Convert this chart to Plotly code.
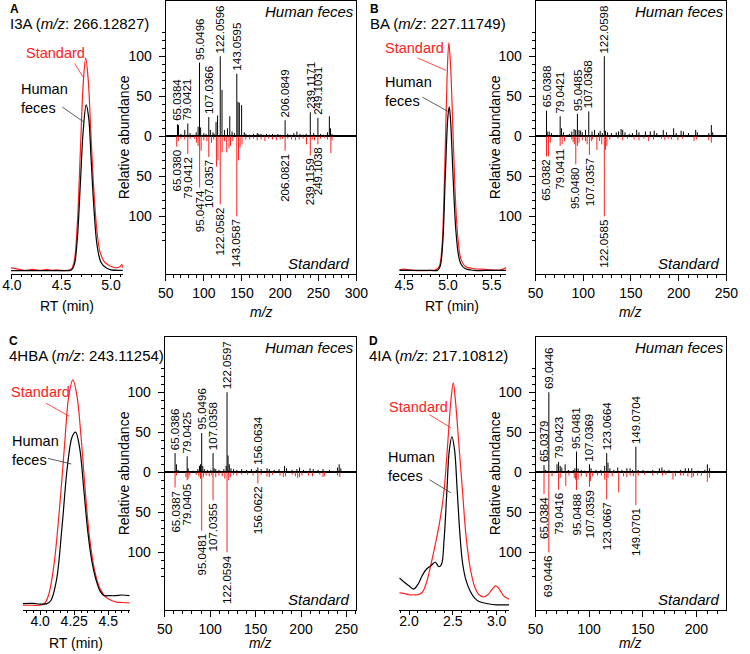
import plotly.graph_objects as go

# ---------------------------------------------------------------- data
# Extracted-ion chromatograms (RT in min, relative intensity; Standard peak = 100)
a_rt_std = [3.99, 4.05, 4.1, 4.15, 4.2, 4.25, 4.3, 4.35, 4.4, 4.45, 4.5, 4.55, 4.6, 4.63, 4.66, 4.69, 4.72, 4.745, 4.77, 4.8, 4.83, 4.86, 4.89, 4.93, 4.97, 5.01, 5.05, 5.09, 5.11, 5.12]
a_in_std = [1.5, 1.0, 0.5, 0.3, 0.8, 0.5, 0.3, 0.8, 0.3, 0.6, 0.2, 0.3, 1.0, 5, 22, 55, 88, 100, 90, 62, 36, 18, 9, 4.5, 3, 2, 1.5, 2, 3, 1.5]
a_rt_hf = [3.99, 4.1, 4.2, 4.3, 4.4, 4.5, 4.6, 4.63, 4.66, 4.69, 4.72, 4.75, 4.775, 4.8, 4.83, 4.86, 4.9, 4.95, 5.0, 5.12]
a_in_hf = [0.2, 0.2, 0.2, 0.2, 0.2, 0.2, 0.5, 3, 15, 40, 66, 78, 72, 52, 28, 12, 4, 1.5, 0.5, 0.3]

b_rt_std = [4.444, 4.5, 4.6, 4.7, 4.8, 4.86, 4.9, 4.93, 4.96, 4.99, 5.01, 5.03, 5.06, 5.09, 5.12, 5.15, 5.2, 5.3, 5.4, 5.5, 5.6, 5.667]
b_in_std = [0.5, 0.8, 0.3, 0.2, 0.3, 0.5, 2, 10, 40, 85, 100, 90, 58, 28, 12, 5, 2, 1, 0.8, 0.5, 0.5, 1.5]
b_rt_hf = [4.444, 4.6, 4.8, 4.88, 4.91, 4.94, 4.97, 5.0, 5.015, 5.03, 5.06, 5.09, 5.12, 5.15, 5.2, 5.3, 5.5, 5.667]
b_in_hf = [0.3, 0.3, 0.3, 0.3, 2, 12, 42, 68, 72, 66, 40, 18, 7, 3, 1, 0.3, 0.3, 0.3]

c_rt_std = [3.871, 3.95, 4.0, 4.03, 4.06, 4.1, 4.14, 4.18, 4.21, 4.24, 4.27, 4.3, 4.33, 4.36, 4.4, 4.44, 4.48, 4.52, 4.56, 4.6, 4.657]
c_in_std = [0.8, 0.8, 0.8, 1.5, 5, 18, 42, 72, 93, 100, 93, 75, 52, 32, 16, 8, 4.5, 3, 2.2, 2, 1.8]
c_rt_hf = [3.871, 3.95, 4.0, 4.05, 4.08, 4.12, 4.16, 4.2, 4.235, 4.26, 4.29, 4.32, 4.35, 4.38, 4.41, 4.44, 4.47, 4.5, 4.55, 4.6, 4.657]
c_in_hf = [1.5, 1.6, 1.3, 1.5, 3, 12, 35, 62, 75, 77, 70, 52, 33, 20, 12, 7, 5, 5, 5, 5.3, 5]

d_rt_std = [1.889, 1.95, 2.0, 2.05, 2.1, 2.15, 2.2, 2.25, 2.3, 2.35, 2.4, 2.44, 2.48, 2.505, 2.53, 2.57, 2.61, 2.65, 2.7, 2.75, 2.8, 2.85, 2.9, 2.95, 2.99, 3.03, 3.08, 3.144]
d_in_std = [6.3, 6, 5.5, 5.5, 5.5, 6.5, 11, 19, 28, 38, 52, 72, 93, 100, 92, 72, 52, 32, 17, 9, 5.5, 4.5, 5.5, 8, 9.5, 8, 5, 3.5]
d_rt_hf = [1.889, 1.95, 2.0, 2.05, 2.1, 2.15, 2.2, 2.25, 2.3, 2.34, 2.37, 2.4, 2.43, 2.46, 2.49, 2.52, 2.55, 2.58, 2.61, 2.65, 2.7, 2.75, 2.8, 2.9, 3.0, 3.144]
d_in_hf = [13, 11, 9.5, 8, 10, 14, 17, 18.5, 20, 18, 19, 30, 50, 70, 76, 70, 52, 33, 20, 12, 7, 4, 2.5, 1.5, 1, 1]

# MS/MS spectra: labelled peaks (position, relative abundance, label) and other peaks
a_hf_lab_mz = [65.5, 79, 94.3, 106.5, 121.5, 143.2, 206.5, 239.5, 249.5]
a_hf_lab_int = [15, 16, 92, 24, 100, 78, 20, 30, 23]
a_hf_lab_txt = ["65.0384", "79.0421", "95.0496", "107.0366", "122.0596", "143.0595", "206.0849", "239.1171", "249.1031"]
a_hf_mz = [66.8, 70, 75, 82, 86, 90, 92.5, 95.8, 100, 103, 108.5, 112, 113.5, 116, 118, 123.8, 127, 131, 134, 137, 140, 144.8, 146.5, 149.5, 153, 155, 160, 165, 170, 172, 175, 178, 182, 186, 190, 193, 197, 200, 210, 214, 218, 222, 226, 230, 234, 244, 253, 257, 262, 264.5, 266, 268]
a_hf_int = [14, 3, 8, 4, 2, 5, 12, 11, 4, 3, 8, 5, 3, 18, 26, 58, 8, 10, 25, 6, 4, 43, 42, 39, 5, 3, 2, 3, 4, 3, 3, 2, 3, 2, 3, 2, 3, 2, 3, 2, 4, 6, 3, 2, 3, 4, 3, 2, 5, 25, 10, 3]
a_st_lab_mz = [64.5, 79, 94.5, 106.5, 121.5, 143.2, 206.5, 239.5, 249.5]
a_st_lab_int = [13, 22, 64, 26, 85, 100, 18, 24, 10]
a_st_lab_txt = ["65.0380", "79.0412", "95.0474", "107.0357", "122.0582", "143.0587", "206.0821", "239.1159", "249.1038"]
a_st_mz = [66.5, 70, 75, 82, 88, 90.5, 92.5, 96.5, 100, 104, 110, 113, 116.5, 118.5, 124, 127, 130, 133, 135, 138, 145.5, 147.5, 150, 155, 160, 165, 170, 175, 180, 185, 190, 195, 200, 203, 210, 215, 220, 225, 230, 234.5, 242, 245, 253, 258, 262, 266.5, 268]
a_st_int = [6, 3, 4, 3, 3, 8, 12, 18, 5, 6, 8, 4, 38, 30, 20, 6, 20, 15, 12, 6, 30, 14, 10, 4, 4, 3, 5, 4, 6, 3, 4, 5, 4, 3, 3, 4, 5, 4, 3, 10, 4, 5, 3, 2, 4, 21, 5]

b_hf_lab_mz = [61.5, 75.8, 93.9, 105.8, 122.1]
b_hf_lab_int = [32, 25, 28, 31, 100]
b_hf_lab_txt = ["65.0388", "79.0421", "95.0485", "107.0368", "122.0598"]
b_hf_mz = [62.2, 64.3, 66.6, 77.2, 79.2, 85.4, 88, 90.4, 92.1, 95.6, 97.3, 99, 102.4, 109.2, 111.9, 116, 117.7, 120, 123.4, 125.5, 129.5, 134.6, 137, 139.7, 141.4, 143.8, 148.2, 151.6, 156, 158.4, 165.2, 170.3, 174.4, 177.1, 183.9, 187.3, 194.8, 197.5, 202.6, 205, 210.4, 217.9, 219.6, 231.6, 234.3, 235.7]
b_hf_int = [6, 6, 4, 10, 5, 3, 6, 9, 8, 8, 7, 5, 8, 6, 8, 4, 7, 4, 7, 5, 4, 5, 6, 9, 8, 5, 3, 4, 8, 5, 6, 6, 7, 4, 8, 5, 10, 4, 7, 6, 4, 8, 5, 4, 14, 5]
b_st_lab_mz = [61.5, 75.8, 92.2, 106.5, 122.1]
b_st_lab_int = [25, 12, 35, 23, 100]
b_st_lab_txt = ["65.0382", "79.0411", "95.0480", "107.0357", "122.0585"]
b_st_mz = [63.5, 65.5, 77.9, 80.3, 88, 89.4, 90.7, 93.9, 95.6, 99, 102.4, 104.1, 108.5, 109.9, 114.3, 117, 119.4, 123.4, 124.8, 127.8, 136.3, 141.4, 146.5, 153.3, 158.4, 163.5, 168.6, 173.7, 182.2, 185.6, 189, 192.4, 199.2, 204.3, 216.2, 218.9, 231.6, 234.3]
b_st_int = [25, 8, 10, 6, 4, 7, 10, 12, 8, 5, 6, 10, 6, 4, 17, 6, 10, 17, 12, 4, 3, 5, 3, 4, 5, 3, 6, 4, 3, 5, 3, 4, 5, 3, 6, 4, 5, 8]

c_hf_lab_mz = [61.4, 74.7, 90.7, 103.2, 118.6, 152.5]
c_hf_lab_int = [24, 20, 49, 24, 100, 6]
c_hf_lab_txt = ["65.0386", "79.0425", "95.0496", "107.0358", "122.0597", "156.0634"]
c_hf_mz = [62.9, 64.7, 75.8, 81.1, 86.5, 88.3, 89.4, 91.9, 93.6, 97.2, 100.8, 104.4, 106.2, 109.7, 115.1, 117.6, 119.7, 121.1, 122.9, 125.8, 129.4, 134.7, 140.1, 145.4, 150.8, 156.1, 162.6, 165.1, 170.5, 175.8, 181.9, 184.1, 190.2, 195.5, 198.4, 202.7, 209.9, 213.4, 218.8, 224.2, 231.3, 240.2, 242, 243.8]
c_hf_int = [10, 3, 5, 2, 4, 8, 10, 8, 4, 3, 3, 5, 4, 3, 4, 8, 21, 10, 5, 4, 3, 4, 3, 4, 3, 4, 5, 4, 3, 4, 8, 5, 3, 4, 6, 3, 5, 4, 3, 4, 3, 6, 10, 5]
c_st_lab_mz = [61.4, 74.7, 90.7, 103.2, 118.6, 152.5]
c_st_lab_int = [19, 10, 73, 35, 100, 14]
c_st_lab_txt = ["65.0387", "79.0405", "95.0481", "107.0355", "122.0594", "156.0622"]
c_st_mz = [62.9, 73.3, 75.8, 77.6, 84.7, 87.6, 89.4, 92.6, 95.5, 99, 101.9, 106.2, 109.7, 113.3, 116.2, 120.4, 122.2, 125.8, 129.4, 134.7, 141.2, 147.2, 156.1, 162.6, 165.1, 168.7, 176.9, 180.5, 183, 190.2, 193.8, 196.3, 198.4, 201, 208.1, 212.7, 220.6, 224.2, 226, 240.2, 242.7]
c_st_int = [4, 6, 8, 4, 3, 5, 8, 6, 4, 5, 4, 6, 4, 5, 8, 10, 6, 3, 4, 3, 3, 4, 3, 5, 6, 3, 4, 6, 5, 3, 5, 7, 6, 4, 4, 5, 3, 6, 5, 4, 6]

d_hf_lab_mz = [57.9, 62.4, 71.5, 88.2, 100.3, 116.4, 143.6]
d_hf_lab_int = [9, 100, 13, 26, 10, 24, 32]
d_hf_lab_txt = ["65.0379", "69.0446", "79.0423", "95.0481", "107.0369", "123.0664", "149.0704"]
d_hf_mz = [59.4, 65.4, 70, 73, 74.5, 77.6, 80.6, 85.2, 86.7, 89.7, 92.7, 95.8, 101.8, 106.4, 110.9, 114.5, 117.6, 119.4, 123, 126.7, 130.6, 135.2, 138.2, 140.6, 145.8, 150.3, 154.8, 159.4, 165.5, 167.9, 170, 174.5, 180.6, 185.2, 189.7, 192.7, 195.8, 201.8, 207.9, 210.3, 212.4]
d_hf_int = [3, 2, 10, 8, 6, 10, 3, 3, 5, 5, 3, 2, 5, 3, 3, 8, 12, 5, 3, 6, 3, 5, 5, 3, 3, 3, 2, 3, 5, 6, 3, 3, 2, 3, 5, 5, 5, 2, 3, 10, 5]
d_st_lab_mz = [57.9, 62.4, 71.5, 88.2, 100.3, 116.4, 143.6]
d_st_lab_int = [27, 100, 22, 22, 18, 34, 41]
d_st_lab_txt = ["65.0384", "69.0446", "79.0416", "95.0488", "107.0359", "123.0667", "149.0701"]
d_st_mz = [65.4, 73, 78.2, 81.2, 86.1, 87.3, 89.7, 92.7, 97.3, 101.2, 103.3, 107.9, 111.5, 114.5, 117.6, 121.5, 127.6, 132.1, 135.2, 138.2, 141.2, 145.8, 151.8, 159.4, 163.9, 168.5, 171.5, 178.2, 180.6, 185.2, 188.2, 192.1, 195.8, 197.3, 201.2, 204.8, 210.3, 212.4]
d_st_int = [5, 7, 17, 4, 7, 9, 9, 5, 6, 11, 5, 4, 4, 9, 7, 5, 25, 5, 6, 4, 5, 4, 3, 4, 3, 4, 3, 9, 5, 4, 4, 5, 7, 5, 4, 4, 12, 7]

panel_letters = ["A", "B", "C", "D"]
panel_titles = ["I3A (<i>m/z</i>: 266.12827)", "BA (<i>m/z</i>: 227.11749)",
                "4HBA (<i>m/z</i>: 243.11254)", "4IA (<i>m/z</i>: 217.10812)"]

# ---------------------------------------------------------------- layout helpers
W, H = 750, 654
FONT = "Liberation Sans, Arial, sans-serif"
RED = "#ff2020"


def fx(p):
    return p / W


def fy(p):
    return 1 - p / H


def frange(a, b, step):
    out, v = [], a
    while v <= b + 1e-9:
        out.append(round(v, 4))
        v += step
    return out


ROWS = [(1, 274), (337, 610)]  # top/bottom pixel of each row

chrom = [
    dict(rt_s=a_rt_std, in_s=a_in_std, rt_h=a_rt_hf, in_h=a_in_hf, dom=(3, 118), xr=[3.99, 5.12], yr=[-1.4, 126.8],
         major=[4.0, 4.5, 5.0], mtxt=["4.0", "4.5", "5.0"], minor=0.1, row=0),
    dict(rt_s=b_rt_std, in_s=b_in_std, rt_h=b_rt_hf, in_h=b_in_hf, dom=(402, 512), xr=[4.444, 5.667], yr=[-1.3, 118.4],
         major=[4.5, 5.0, 5.5], mtxt=["4.5", "5.0", "5.5"], minor=0.1, row=0),
    dict(rt_s=c_rt_std, in_s=c_in_std, rt_h=c_rt_hf, in_h=c_in_hf, dom=(15, 125), xr=[3.871, 4.657], yr=[-1.3, 118.9],
         major=[4.0, 4.25, 4.5], mtxt=["4.0", "4.25", "4.5"], minor=0.05, row=1),
    dict(rt_s=d_rt_std, in_s=d_in_std, rt_h=d_rt_hf, in_h=d_in_hf, dom=(402, 515), xr=[1.889, 3.144], yr=[-1.3, 120.5],
         major=[2.0, 2.5, 3.0], mtxt=["2.0", "2.5", "3.0"], minor=0.1, row=1),
]

spec = [
    dict(hl=(a_hf_lab_mz, a_hf_lab_int, a_hf_lab_txt), h=(a_hf_mz, a_hf_int),
         sl=(a_st_lab_mz, a_st_lab_int, a_st_lab_txt), s=(a_st_mz, a_st_int), dom=(162, 358), xr=[50, 300], row=0),
    dict(hl=(b_hf_lab_mz, b_hf_lab_int, b_hf_lab_txt), h=(b_hf_mz, b_hf_int),
         sl=(b_st_lab_mz, b_st_lab_int, b_st_lab_txt), s=(b_st_mz, b_st_int), dom=(542, 738), xr=[50, 250], row=0),
    dict(hl=(c_hf_lab_mz, c_hf_lab_int, c_hf_lab_txt), h=(c_hf_mz, c_hf_int),
         sl=(c_st_lab_mz, c_st_lab_int, c_st_lab_txt), s=(c_st_mz, c_st_int), dom=(161, 358), xr=[50, 261], row=1),
    dict(hl=(d_hf_lab_mz, d_hf_lab_int, d_hf_lab_txt), h=(d_hf_mz, d_hf_int),
         sl=(d_st_lab_mz, d_st_lab_int, d_st_lab_txt), s=(d_st_mz, d_st_int), dom=(542, 738), xr=[50, 228], row=1),
]

# centre x (px) of the letter + title blocks
title_cx = [73, 442, 81, 442]

fig = go.Figure()
layout = {}
ann = []


def sticks(mz, inten, sign):
    xs, ys = [], []
    for m, v in zip(mz, inten):
        xs += [m, m, None]
        ys += [0, sign * v, None]
    return xs, ys


tickfont = dict(family=FONT, size=14, color="black")
LABEL_SIZE = 11.5


def free_text(xc, yc, text, size, color="black", angle=0, yanchor="middle", align="center"):
    return dict(x=fx(xc), y=fy(yc), xref="paper", yref="paper", text=text, showarrow=False,
                xanchor="center", yanchor=yanchor, textangle=angle, align=align,
                font=dict(family=FONT, size=size, color=color))


for i in range(4):
    c = chrom[i]
    s = spec[i]
    cx, cy = 2 * i + 1, 2 * i + 1
    sx, sy = 2 * i + 2, 2 * i + 2
    top, bot = ROWS[c["row"]]
    ydom = [fy(bot), fy(top)]

    # ---- chromatogram
    xa = "x" if cx == 1 else f"x{cx}"
    ya = "y" if cy == 1 else f"y{cy}"
    fig.add_trace(go.Scatter(x=c["rt_s"], y=c["in_s"], mode="lines", line=dict(color=RED, width=1.2, shape="spline"),
                             xaxis=xa, yaxis=ya, hoverinfo="skip"))
    fig.add_trace(go.Scatter(x=c["rt_h"], y=c["in_h"], mode="lines", line=dict(color="black", width=1.2, shape="spline"),
                             xaxis=xa, yaxis=ya, hoverinfo="skip"))
    minors = [v for v in frange(c["xr"][0] - (c["xr"][0] % c["minor"]), c["xr"][1], c["minor"])
              if c["xr"][0] <= v <= c["xr"][1] and all(abs(v - m) > 1e-6 for m in c["major"])]
    layout[f"xaxis{cx}"] = dict(domain=[fx(c["dom"][0]), fx(c["dom"][1])], range=c["xr"], anchor=ya,
                                showline=True, linecolor="black", linewidth=1, showgrid=False, zeroline=False,
                                ticks="outside", ticklen=4, tickwidth=1, tickcolor="black",
                                tickmode="array", tickvals=c["major"], ticktext=c["mtxt"], tickfont=tickfont,
                                ticklabelstandoff=-6,
                                minor=dict(tickmode="array", tickvals=minors, ticks="outside", ticklen=2,
                                           tickcolor="black", tickwidth=1, showgrid=False))
    layout[f"yaxis{cy}"] = dict(domain=ydom, range=c["yr"], anchor=xa, visible=False)

    # ---- spectrum
    xs_ = f"x{sx}"
    ys_ = f"y{sy}"
    hx, hy = sticks(list(s["h"][0]) + list(s["hl"][0]), list(s["h"][1]) + list(s["hl"][1]), 1)
    rx, ry = sticks(list(s["s"][0]) + list(s["sl"][0]), list(s["s"][1]) + list(s["sl"][1]), -1)
    fig.add_trace(go.Scatter(x=rx, y=ry, mode="lines", line=dict(color=RED, width=1), xaxis=xs_, yaxis=ys_,
                             hoverinfo="skip"))
    fig.add_trace(go.Scatter(x=hx, y=hy, mode="lines", line=dict(color="black", width=1), xaxis=xs_, yaxis=ys_,
                             hoverinfo="skip"))
    xmaj = list(range(50, int(s["xr"][1]) + 1, 50))
    xmin = [v for v in range(50, int(s["xr"][1]) + 1, 10) if v % 50]
    layout[f"xaxis{sx}"] = dict(domain=[fx(s["dom"][0]), fx(s["dom"][1])], range=s["xr"], anchor=ys_,
                                showline=True, mirror=True, linecolor="black", linewidth=1, showgrid=False,
                                zeroline=False, ticks="outside", ticklen=6, tickwidth=1, tickcolor="black",
                                tickmode="array", tickvals=xmaj, ticktext=[str(v) for v in xmaj], tickfont=tickfont,
                                minor=dict(tickmode="array", tickvals=xmin, ticks="outside", ticklen=3,
                                           tickcolor="black", tickwidth=1, showgrid=False))
    layout[f"yaxis{sy}"] = dict(domain=ydom, range=[-172, 169], anchor=xs_,
                                showline=True, mirror=True, linecolor="black", linewidth=1, showgrid=False,
                                zeroline=True, zerolinecolor="black", zerolinewidth=1.5,
                                ticks="outside", ticklen=6, tickwidth=1, tickcolor="black",
                                tickmode="array", tickvals=[-100, -50, 0, 50, 100],
                                ticktext=["100", "50", "0", "50", "100"], tickfont=tickfont,
                                ticklabelstandoff=4,
                                minor=dict(tickmode="array",
                                           tickvals=[v for v in range(-130, 131, 10) if v % 50],
                                           ticks="outside", ticklen=3, tickcolor="black", tickwidth=1,
                                           showgrid=False))

    # peak labels
    for m, v, t in zip(*s["hl"]):
        ann.append(dict(x=m, y=v, xref=xs_, yref=ys_, text=t, textangle=-90, showarrow=False,
                        xanchor="center", yanchor="bottom", yshift=1,
                        font=dict(family=FONT, size=LABEL_SIZE, color="black")))
    for m, v, t in zip(*s["sl"]):
        ann.append(dict(x=m, y=-v, xref=xs_, yref=ys_, text=t, textangle=-90, showarrow=False,
                        xanchor="center", yanchor="top", yshift=-1,
                        font=dict(family=FONT, size=LABEL_SIZE, color="black")))

    # in-box captions
    right = s["dom"][1]
    ann.append(free_text(right - 48, top + 10, "<i>Human feces</i>", 15))
    ann.append(free_text(right - 38, bot - 11, "<i>Standard</i>", 15))

    # y-axis title
    ann.append(free_text(119 if i % 2 == 0 else 500, (top + bot) / 2, "Relative abundance", 14, angle=-90))
    # m/z title
    ann.append(free_text((s["dom"][0] + s["dom"][1]) / 2, 312 if c["row"] == 0 else 643, "<i>m/z</i>", 14))

    # panel letter + compound title, one left-aligned block
    ly = 0 if c["row"] == 0 else 332
    block = "<b>" + panel_letters[i] + "</b><br><span style='font-size:15px'>" + panel_titles[i] + "</span>"
    ann.append(free_text(title_cx[i], ly, block, 12, yanchor="top", align="left"))

# RT titles (panel D has none)
for cx_center, yv in [(61, 306), (456, 306), (70, 643)]:
    ann.append(free_text(cx_center, yv, "RT (min)", 14))

# chromatogram captions: text centres (px), leader heads (data) and tail offsets (px)
cap = [
    dict(std=(49, 53), hum=(38, 99), sh=(4.725, 90.6), so=(-10, -16), hh=(4.725, 70), ho=(-23, -16)),
    dict(std=(418, 48), hum=(411, 92), sh=(4.978, 88), so=(-30, -13), hh=(5.0, 70), ho=(-27, -15)),
    dict(std=(33, 392), hum=(28, 450), sh=(4.214, 84), so=(-25, -14), hh=(4.229, 63), ho=(-25, -6)),
    dict(std=(422, 407), hum=(415, 466), sh=(2.478, 80), so=(-23, -14), hh=(2.478, 51), ho=(-23, -14)),
]
for i, cp in enumerate(cap):
    xa = "x" if i == 0 else f"x{2 * i + 1}"
    ya = "y" if i == 0 else f"y{2 * i + 1}"
    ann.append(free_text(cp["std"][0], cp["std"][1], "Standard", 14.5, color=RED))
    ann.append(free_text(cp["hum"][0], cp["hum"][1], "Human<br>feces", 14.5, align="left"))
    ann.append(dict(x=cp["sh"][0], y=cp["sh"][1], xref=xa, yref=ya, text="", showarrow=True, arrowhead=0,
                    arrowwidth=0.8, arrowcolor=RED, ax=cp["so"][0], ay=cp["so"][1], standoff=0, startstandoff=0))
    ann.append(dict(x=cp["hh"][0], y=cp["hh"][1], xref=xa, yref=ya, text="", showarrow=True, arrowhead=0,
                    arrowwidth=0.8, arrowcolor="#333333", ax=cp["ho"][0], ay=cp["ho"][1], standoff=0,
                    startstandoff=0))

fig.update_layout(width=W, height=H, margin=dict(l=0, r=0, t=0, b=0), paper_bgcolor="white",
                  plot_bgcolor="rgba(0,0,0,0)", showlegend=False,
                  font=dict(family=FONT, size=14, color="black"), annotations=ann, **layout)
fig.write_html("out.html")
